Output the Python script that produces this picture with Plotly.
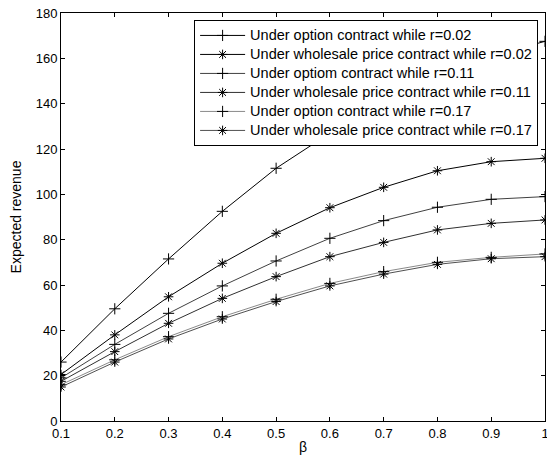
import plotly.graph_objects as go

beta = [0.1, 0.2, 0.3, 0.4, 0.5, 0.6, 0.7, 0.8, 0.9, 1.0]

option_r002 = [26.0, 49.5, 71.5, 92.5, 111.5, 127.0, 141.0, 152.5, 161.0, 167.5]
wholesale_r002 = [20.5, 38.0, 54.8, 69.6, 82.8, 94.1, 103.1, 110.4, 114.4, 115.9]
option_r011 = [19.0, 33.8, 47.5, 59.6, 70.6, 80.6, 88.4, 94.3, 97.8, 99.0]
wholesale_r011 = [17.5, 30.6, 43.1, 54.1, 63.7, 72.5, 78.8, 84.3, 87.2, 88.7]
option_r017 = [16.0, 27.0, 37.2, 46.0, 53.7, 60.7, 65.9, 70.0, 72.2, 73.7]
wholesale_r017 = [15.0, 26.0, 36.2, 45.0, 52.7, 59.6, 64.8, 69.1, 71.6, 72.5]

names = [
    "Under option contract while r=0.02",
    "Under wholesale price contract while r=0.02",
    "Under optiom contract while r=0.11",
    "Under wholesale price contract while r=0.11",
    "Under option contract while r=0.17",
    "Under wholesale price contract while r=0.17",
]
series = [option_r002, wholesale_r002, option_r011, wholesale_r011, option_r017, wholesale_r017]
line_colors = ["#000000", "#000000", "#404040", "#303030", "#8a8a8a", "#505050"]
symbols = ["cross-thin", "asterisk", "cross-thin", "asterisk", "cross-thin", "asterisk"]

FONT = "Arial, Liberation Sans, sans-serif"

fig = go.Figure()
for name, ys, col, sym in zip(names, series, line_colors, symbols):
    fig.add_trace(go.Scatter(
        x=beta, y=ys, name='<span style="font-size:14.5px">' + name + '</span>',
        mode="lines+markers",
        line=dict(color=col, width=1),
        marker=dict(symbol=sym, size=8, color="#000000",
                    line=dict(color="#000000", width=1)),
    ))

axis_common = dict(
    showline=True, linecolor="black", linewidth=1, mirror="ticks",
    ticks="inside", ticklen=4, tickcolor="black", showgrid=False, zeroline=False,
    tickfont=dict(family=FONT, size=13, color="black"),
    ticklabeloverflow="allow",
)

fig.update_layout(
    width=547, height=463,
    margin=dict(l=61, r=2, t=13, b=42, autoexpand=False),
    paper_bgcolor="white", plot_bgcolor="white",
    font=dict(family=FONT, size=13, color="black"),
    xaxis=dict(range=[0.1, 1.0], tickvals=[0.1, 0.2, 0.3, 0.4, 0.5, 0.6, 0.7, 0.8, 0.9, 1.0],
               ticktext=["0.1", "0.2", "0.3", "0.4", "0.5", "0.6", "0.7", "0.8", "0.9", "1"],
               title=dict(text="β", standoff=2, font=dict(family=FONT, size=14)),
               automargin=False, **axis_common),
    yaxis=dict(range=[0, 180], tickvals=list(range(0, 181, 20)),
               title=dict(text="Expected revenue", standoff=10, font=dict(family=FONT, size=14)),
               automargin=False, **axis_common),
    legend=dict(x=0.275, y=0.983, xanchor="left", yanchor="top",
                bgcolor="white", bordercolor="black", borderwidth=1,
                font=dict(family=FONT, size=12, color="black"),
                tracegroupgap=0, itemwidth=45),
    showlegend=True,
)

fig.write_html("out.html", config={"displayModeBar": False},
               post_script="document.body.style.margin='0';document.body.style.padding='0';")
